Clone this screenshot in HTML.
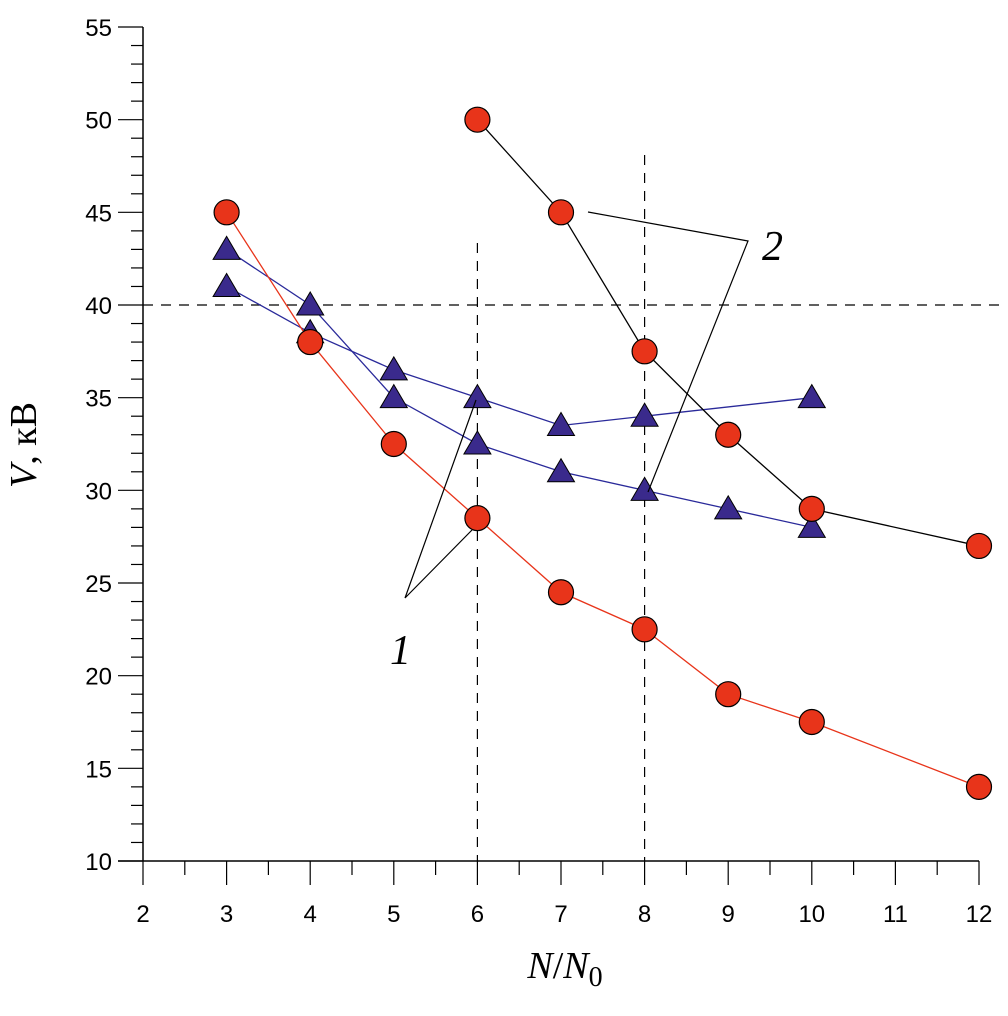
<!DOCTYPE html>
<html><head><meta charset="utf-8"><style>
body{margin:0;background:#fff}
svg{display:block}
</style></head><body>
<svg id="chart" width="1008" height="1016" xmlns="http://www.w3.org/2000/svg" style="font-family:'Liberation Sans',sans-serif"></svg>
<script>
const xTicks=[2,3,4,5,6,7,8,9,10,11,12];
const yTicks=[10,15,20,25,30,35,40,45,50,55];
const redX=[3,4,5,6,7,8,9,10,12];
const redY=[45,38,32.5,28.5,24.5,22.5,19,17.5,14];
const blackX=[6,7,8,9,10,12];
const blackY=[50,45,37.5,33,29,27];
const triAX=[3,4,5,6,7,8,10];
const triAY=[41,38.5,36.5,35,33.5,34,35];
const triBX=[3,4,5,6,7,8,9,10];
const triBY=[43,40,35,32.5,31,30,29,28];

const svg=document.getElementById('chart');
const NS='http://www.w3.org/2000/svg';
const SERIF="font-family:'Liberation Serif',serif";
const X=v=>143+(v-2)*83.6;
const Y=v=>861-(v-10)*(834/45);
function mk(tag,attrs,parent){const e=document.createElementNS(NS,tag);for(const k in attrs)e.setAttribute(k,attrs[k]);(parent||svg).appendChild(e);return e;}

let g=mk('g',{});


mk('line',{x1:143,y1:Y(55),x2:143,y2:Y(10),stroke:'#000','stroke-width':1.5},g);
mk('line',{x1:118,y1:Y(10),x2:X(12),y2:Y(10),stroke:'#000','stroke-width':1.5},g);
for(let v=10;v<=55;v+=1){const major=v%5===0;mk('line',{x1:major?118:131,y1:Y(v),x2:143,y2:Y(v),stroke:'#000','stroke-width':1.2},g);}
for(let v=2;v<=12;v+=0.5){const major=Number.isInteger(v);mk('line',{x1:X(v),y1:Y(10),x2:X(v),y2:Y(10)+(major?24:14),stroke:'#000','stroke-width':1.2},g);}
xTicks.forEach(v=>{const t=mk('text',{x:X(v),y:922,'text-anchor':'middle','font-size':24},g);t.textContent=v;
});
yTicks.forEach(v=>{const t=mk('text',{x:112,y:Y(v)+9,'text-anchor':'end','font-size':24},g);t.textContent=v;
});

let xt=mk('text',{x:565,y:978,'text-anchor':'middle','font-size':38,style:SERIF});
xt.innerHTML='<tspan font-style="italic">N</tspan>/<tspan font-style="italic">N</tspan><tspan font-size="28" dy="8">0</tspan>';


let yt=mk('text',{x:0,y:0,'text-anchor':'middle','font-size':38,style:SERIF,transform:'translate(36,445) rotate(-90)'});
yt.innerHTML='<tspan font-style="italic">V</tspan>, кВ';



const dash={stroke:'#000','stroke-width':1.2,'stroke-dasharray':'10,8',fill:'none'};
let d1=mk('line',Object.assign({x1:143,y1:Y(40),x2:1000,y2:Y(40)},dash));


let d2=mk('line',Object.assign({x1:X(6),y1:243,x2:X(6),y2:Y(10)},dash));


let d3=mk('line',Object.assign({x1:X(8),y1:155,x2:X(8),y2:Y(10)},dash));



function series(xs,ys,color,shape,name){
  const gg=mk('g',{});
  
  
  mk('polyline',{points:xs.map((x,i)=>X(x)+','+Y(ys[i])).join(' '),fill:'none',stroke:color,'stroke-width':1.3},gg);
  xs.forEach((x,i)=>{
    const cx=X(x),cy=Y(ys[i]);let m;
    if(shape==='circle')m=mk('circle',{cx:cx,cy:cy,r:12.5,fill:'#e8341a',stroke:'#000','stroke-width':1.2},gg);
    else m=mk('polygon',{points:`${cx},${cy-13} ${cx-13.5},${cy+10} ${cx+13.5},${cy+10}`,fill:'#3a2a8c',stroke:'#000','stroke-width':1},gg);
    
    
  });
}
series(triAX,triAY,'#2a2a9a','tri','triangle-series-a');
series(triBX,triBY,'#2a2a9a','tri','triangle-series-b');
series(redX,redY,'#e8341a','circle','red-circle-series');
series(blackX,blackY,'#000','circle','black-circle-series');

let a1=mk('polyline',{points:'476,400 405,598 472,530',fill:'none',stroke:'#000','stroke-width':1.2});


let a2=mk('polyline',{points:'588,212 748,241 648,492',fill:'none',stroke:'#000','stroke-width':1.2});


let l1=mk('text',{x:390,y:664,'font-size':42,'font-style':'italic',style:SERIF});l1.textContent='1';


let l2=mk('text',{x:762,y:260,'font-size':42,'font-style':'italic',style:SERIF});l2.textContent='2';


</script>
</body></html>
